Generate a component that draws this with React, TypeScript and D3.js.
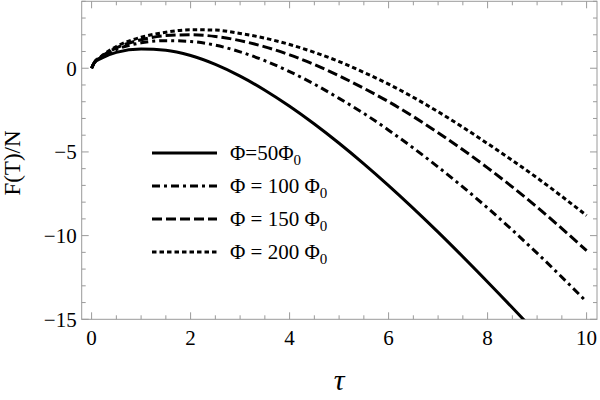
import React from "react";
import * as d3 from "d3";

const tau = [0, 0.05, 0.2, 0.5, 1, 1.5, 2, 2.5, 3, 3.5, 4, 4.5, 5, 5.5, 6, 7, 8, 9, 10];
const phi50 = [0, 0.3, 0.6, 0.95, 1.15, 1.08, 0.76, 0.23, -0.47, -1.31, -2.27, -3.33, -4.48, -5.71, -7.01, -9.79, -12.77, -15.87, -19.07];
const phi100 = [0, 0.31, 0.67, 1.12, 1.52, 1.65, 1.6, 1.38, 0.98, 0.45, -0.2, -0.95, -1.8, -2.7, -3.7, -5.9, -8.35, -11.05, -13.95];
const phi150 = [0, 0.32, 0.7, 1.22, 1.7, 1.95, 2.0, 1.9, 1.65, 1.28, 0.8, 0.22, -0.45, -1.2, -2.0, -3.85, -5.95, -8.3, -10.9];
const phi200 = [0, 0.32, 0.72, 1.3, 1.85, 2.15, 2.3, 2.28, 2.08, 1.8, 1.42, 0.95, 0.4, -0.25, -0.95, -2.6, -4.5, -6.55, -8.8];

const seriesLabels = ["50", "100", "150", "200"];
const xTickValues = [0, 2, 4, 6, 8, 10];
const yTickValues = [-15, -10, -5, 0];

const W = 600;
const H = 400;
const L = 81.7, R = 597, T = 1.3, B = 319.3;
const FONT = '"Liberation Serif", "Times New Roman", "DejaVu Serif", serif';

export default function App() {
  const x = d3.scaleLinear().domain([-0.2, 10.21]).range([L, R]);
  const y = d3.scaleLinear().domain([-15, 4]).range([B, T]);
  const line = d3
    .line<number>()
    .x((_, i) => x(tau[i]))
    .y((d) => y(d))
    .curve(d3.curveMonotoneX);

  const series = [phi50, phi100, phi150, phi200];
  const dashes = ["none", "8,4,3,4", "10,4", "4.5,3"];

  const xMinor = d3.range(0, 10.01, 0.5);
  const yMinor = d3.range(-15, 4.01, 1);
  const frameColor = "#9a9a9a";
  const ts = { fontFamily: FONT };

  const legendX0 = 152, legendX1 = 217, legendTextX = 230;
  const legendY = [153, 186, 219, 252];

  return (
    <svg
      width={W}
      height={H}
      style={{ position: "absolute", left: 0, top: 0, background: "#fff", fontFamily: FONT }}
    >
      <defs>
        <clipPath id="plotclip">
          <rect x={L} y={T} width={R - L} height={B - T} />
        </clipPath>
      </defs>
      {xMinor.map((v) => {
        const major = Math.abs(v % 2) < 1e-9;
        const len = major ? 7 : 4;
        return (
          <g key={"xt" + v} stroke={frameColor} strokeWidth={1}>
            <line x1={x(v)} x2={x(v)} y1={B} y2={B - len} />
            <line x1={x(v)} x2={x(v)} y1={T} y2={T + len} />
          </g>
        );
      })}
      {yMinor.map((v) => {
        const major = Math.abs(v % 5) < 1e-9;
        const len = major ? 7 : 4;
        return (
          <g key={"yt" + v} stroke={frameColor} strokeWidth={1}>
            <line x1={L} x2={L + len} y1={y(v)} y2={y(v)} />
            <line x1={R} x2={R - len} y1={y(v)} y2={y(v)} />
          </g>
        );
      })}
      <rect x={L} y={T} width={R - L} height={B - T} fill="none" stroke={frameColor} strokeWidth={1} />

      {xTickValues.map((v) => (
        <text key={"xl" + v} x={x(v)} y={345} fontSize={21} textAnchor="middle" fill="#000" style={ts}>
          {v}
        </text>
      ))}
      {yTickValues.map((v) => (
        <text key={"yl" + v} x={L - 5} y={y(v) + 7.5} fontSize={21} textAnchor="end" fill="#000" style={ts}>
          {v < 0 ? "\u2212" + Math.abs(v) : String(v)}
        </text>
      ))}

      <text transform={`translate(20,163) rotate(-90)`} fontSize={23} textAnchor="middle" fill="#000" style={ts}>
        F(T)/N
      </text>
      <text x={339} y={390} fontSize={30} fontStyle="italic" textAnchor="middle" fill="#000" style={ts}>
        τ
      </text>

      <g clipPath="url(#plotclip)">
        {series.map((s, i) => (
          <path
            key={"s" + i}
            d={line(s) || ""}
            fill="none"
            stroke="#000"
            strokeWidth={3}
            strokeDasharray={dashes[i]}
          />
        ))}
      </g>

      {seriesLabels.map((lab, i) => (
        <g key={"lg" + i}>
          <line
            x1={legendX0}
            x2={legendX1}
            y1={legendY[i]}
            y2={legendY[i]}
            stroke="#000"
            strokeWidth={3}
            strokeDasharray={dashes[i]}
          />
          <text x={legendTextX} y={legendY[i] + 7} fontSize={21} fill="#000" style={ts}>
            {i === 0 ? "Φ=" + lab + "Φ" : "Φ = " + lab + " Φ"}
            <tspan dy={5} fontSize={15}>0</tspan>
          </text>
        </g>
      ))}
    </svg>
  );
}
